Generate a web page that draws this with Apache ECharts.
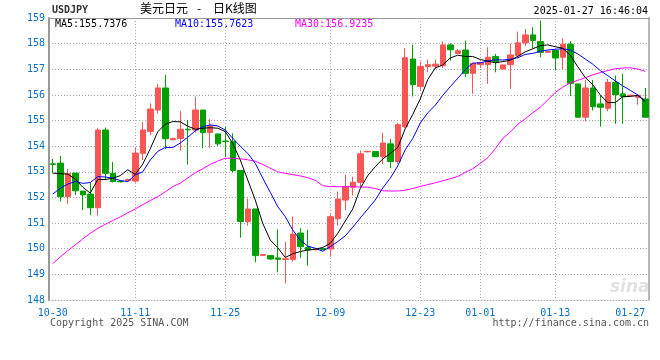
<!DOCTYPE html>
<html><head><meta charset="utf-8">
<script src="https://cdn.jsdelivr.net/npm/echarts@6/dist/echarts.min.js"></script>
<style>html,body{margin:0;padding:0;background:#fff}#c{width:660px;height:360px}</style>
</head><body><div id="c"></div>
<script>
// ---- data ----
const dates = ['10-30','10-31','11-01','11-02','11-03','11-04','11-05','11-06','11-07','11-08',
 '11-09','11-11','11-12','11-13','11-14','11-15','11-16','11-18','11-19','11-20',
 '11-21','11-22','11-23','11-25','11-26','11-27','11-28','11-29','11-30','12-01',
 '12-02','12-03','12-04','12-05','12-06','12-07','12-08','12-09','12-10','12-11',
 '12-12','12-13','12-14','12-16','12-17','12-18','12-19','12-20','12-21','12-23',
 '12-24','12-25','12-26','12-27','12-28','12-30','12-31','01-01','01-02','01-03',
 '01-04','01-06','01-07','01-08','01-09','01-10','01-11','01-13','01-14','01-15',
 '01-16','01-17','01-18','01-20','01-21','01-22','01-23','01-24','01-25','01-27'];
const shownLabels = ['10-30','11-11','11-25','12-09','12-23','01-01','01-13','01-27'];
const openP = [153.31,153.34,152.03,152.95,152.25,152.13,151.60,154.63,152.94,152.63,
 152.65,152.64,153.72,154.57,155.41,156.27,154.25,154.30,154.66,154.63,
 155.41,154.53,154.48,154.20,154.19,153.05,151.06,151.55,149.74,149.74,
 149.64,149.58,149.58,150.61,150.05,149.96,150.01,149.99,151.17,151.90,
 152.40,152.59,153.78,153.79,153.59,154.09,153.40,154.76,157.40,156.33,
 157.10,157.12,157.14,157.95,157.62,157.75,156.84,157.18,157.18,157.50,
 157.01,157.18,157.53,158.03,158.34,158.08,157.66,157.73,157.47,157.98,
 156.43,155.13,156.27,155.65,155.48,156.49,156.04,155.97,155.91,155.84];
const closeP = [153.29,152.03,152.94,152.26,152.10,151.60,154.63,152.94,152.62,152.61,
 152.70,153.73,154.63,155.45,156.27,154.29,154.30,154.66,154.64,155.41,
 154.53,154.80,154.09,154.18,153.05,151.06,151.55,149.73,149.77,149.60,
 149.59,149.61,150.57,150.08,149.95,149.99,149.97,151.25,151.94,152.42,
 152.59,153.70,153.80,153.59,154.12,153.40,154.84,157.45,156.40,157.11,
 157.18,157.20,157.95,157.76,157.72,156.84,157.23,157.27,157.47,157.30,
 157.17,157.56,158.03,158.34,158.12,157.66,157.70,157.44,157.98,156.45,
 155.13,156.27,155.54,155.52,156.49,156.01,155.93,155.99,155.99,155.13];
const lowP = [152.94,151.84,151.74,152.10,151.51,151.31,151.29,152.68,152.58,152.58,
 152.62,152.58,153.46,154.43,155.28,153.88,154.22,153.83,153.28,154.53,
 153.92,153.94,154.01,153.59,152.97,150.43,150.90,149.47,149.72,149.56,
 149.08,148.65,149.50,149.65,149.34,149.93,149.94,149.69,150.90,151.50,
 152.07,152.40,153.76,153.58,153.31,153.15,153.31,154.70,155.94,156.17,
 156.88,157.00,157.05,157.34,157.60,156.69,156.04,157.05,156.43,156.88,
 157.00,156.23,157.43,157.90,157.82,157.47,157.64,156.95,157.01,155.95,
 155.10,154.97,155.39,154.76,155.36,154.87,154.87,155.96,155.62,155.13];
const highP = [153.50,153.62,153.12,152.95,152.25,152.58,154.70,154.73,153.38,152.66,
 152.74,153.95,154.94,155.67,156.43,156.78,154.33,155.37,155.02,155.93,
 155.41,155.06,154.48,154.76,154.50,153.05,151.96,151.55,149.79,149.74,
 150.76,150.26,151.25,150.80,150.73,150.02,150.03,151.35,152.23,152.88,
 152.81,153.83,153.82,153.80,154.52,154.28,154.91,157.83,157.95,157.30,
 157.38,157.38,158.09,158.01,157.79,158.12,157.25,157.28,157.86,157.60,
 157.18,157.99,158.47,158.57,158.64,158.90,157.72,157.73,158.21,158.09,
 156.43,156.58,156.58,155.97,156.62,156.75,156.82,156.00,155.99,156.27];
const ma5 = [152.95,152.93,152.91,152.72,152.40,152.17,152.70,152.70,152.75,152.85,
 153.08,152.90,153.30,153.90,154.56,154.86,154.96,154.95,154.78,154.66,
 154.70,154.72,154.70,154.57,154.11,153.46,152.68,151.90,150.99,150.34,
 150.04,149.66,149.80,149.89,149.95,149.98,150.05,150.21,150.60,151.08,
 151.55,152.35,152.85,153.20,153.50,153.72,153.95,154.68,155.24,155.84,
 156.60,157.05,157.17,157.44,157.55,157.50,157.50,157.38,157.32,157.25,
 157.30,157.35,157.50,157.68,157.80,157.92,157.95,157.88,157.82,157.55,
 157.10,156.68,156.40,156.00,155.70,155.70,155.93,155.94,155.98,155.74];
const ma10 = [152.13,152.36,152.52,152.62,152.55,152.58,152.81,152.80,152.75,152.66,
 152.62,152.88,153.00,153.46,153.80,153.95,153.95,154.12,154.35,154.60,
 154.76,154.83,154.79,154.63,154.31,154.00,153.72,153.33,152.75,152.20,
 151.64,151.25,150.73,150.34,150.10,150.02,149.90,150.08,150.28,150.50,
 150.84,151.20,151.55,151.90,152.37,152.75,153.23,153.86,154.30,154.90,
 155.30,155.60,155.98,156.32,156.65,156.98,157.24,157.25,157.32,157.37,
 157.36,157.39,157.45,157.58,157.62,157.70,157.75,157.78,157.80,157.75,
 157.60,157.40,157.20,156.95,156.75,156.55,156.35,156.18,156.00,155.76];
const ma30 = [149.42,149.68,149.92,150.15,150.38,150.60,150.79,150.95,151.10,151.24,
 151.40,151.55,151.72,151.88,152.03,152.22,152.42,152.56,152.76,152.96,
 153.12,153.29,153.42,153.53,153.53,153.51,153.47,153.41,153.29,153.14,
 153.00,152.94,152.89,152.84,152.77,152.67,152.46,152.42,152.42,152.42,
 152.42,152.41,152.40,152.35,152.26,152.25,152.25,152.28,152.35,152.43,
 152.50,152.57,152.65,152.73,152.82,152.98,153.12,153.33,153.55,153.90,
 154.30,154.55,154.85,155.07,155.30,155.52,155.80,156.10,156.30,156.47,
 156.57,156.67,156.78,156.87,156.95,157.02,157.05,157.06,157.01,156.92];
const yMin = 148, yMax = 159, yStep = 1;
const legendTexts = ['MA5:155.7376','MA10:155.7623','MA30:156.9235'];
const titleParts = ['美元日元', '-', '日K线图'];

// ---- chart ----
const candleData = dates.map((d, i) => [openP[i], closeP[i], lowP[i], highP[i]]);
const isShown = (i) => shownLabels.indexOf(dates[i]) >= 0;
const isInnerGrid = (i) => isShown(i) && i !== 0 && i !== dates.length - 1;
const mono = 'DejaVu Sans Mono';
const cjk = '"Noto Sans CJK SC"';
const blue = '#0a70c4';
const dotted = {type: [1, 2], color: '#a8a8a8', width: 1};

const chart = echarts.init(document.getElementById('c'), null, {renderer: 'canvas'});
chart.setOption({
  animation: false,
  backgroundColor: '#fff',
  grid: {left: 49, right: 11, top: 18, bottom: 60, containLabel: false},
  xAxis: [{
    type: 'category', data: dates, boundaryGap: true, position: 'bottom',
    axisLine: {show: true, lineStyle: dotted},
    axisTick: {show: false},
    axisLabel: {interval: (i) => isShown(i), color: blue, fontFamily: mono, fontSize: 10, margin: 8,
      alignMaxLabel: 'right'},
    splitLine: {show: true, interval: (i) => isInnerGrid(i), alignWithLabel: true, lineStyle: dotted}
  }, {
    type: 'category', data: dates, boundaryGap: true, position: 'top',
    axisLine: {show: true, lineStyle: {color: '#999', width: 1}},
    axisTick: {show: false}, axisLabel: {show: false}, splitLine: {show: false}
  }],
  yAxis: [{
    type: 'value', min: yMin, max: yMax, interval: yStep, position: 'left',
    axisLine: {show: true, lineStyle: {color: '#999', width: 2}},
    axisTick: {show: false},
    axisLabel: {color: blue, fontFamily: mono, fontSize: 10, margin: 4},
    splitLine: {show: true, lineStyle: dotted}
  }, {
    type: 'value', min: yMin, max: yMax, interval: yStep, position: 'right',
    axisLine: {show: true, lineStyle: {color: '#b8b8b8', width: 2}},
    axisTick: {show: false}, axisLabel: {show: false}, splitLine: {show: false}
  }],
  series: [{
    type: 'candlestick', data: candleData, barWidth: 6,
    itemStyle: {color: '#f85555', color0: '#00a000', borderColor: '#f85555', borderColor0: '#00a000', borderWidth: 1}
  }, {
    type: 'line', data: ma30, symbol: 'none', lineStyle: {color: '#ff00ff', width: 1}, z: 3
  }, {
    type: 'line', data: ma10, symbol: 'none', lineStyle: {color: '#0000ff', width: 1}, z: 4
  }, {
    type: 'line', data: ma5, symbol: 'none', lineStyle: {color: '#000000', width: 1}, z: 5
  }],
  graphic: [
    {type: 'text', left: 52, top: 5, style: {text: 'USDJPY', font: 'bold 10px ' + mono, fill: '#333'}},
    {type: 'text', left: 140, top: 2, style: {text: titleParts[0], font: '12px ' + cjk, fill: '#000'}},
    {type: 'text', left: 197, top: 2, style: {text: titleParts[1], font: '12px ' + cjk, fill: '#000'}},
    {type: 'text', left: 213, top: 2, style: {text: titleParts[2], font: '12px ' + cjk, fill: '#000'}},
    {type: 'text', right: 12, top: 6, style: {text: '2025-01-27 16:46:04', font: '10px ' + mono, fill: '#000'}},
    {type: 'text', left: 55, top: 19, style: {text: legendTexts[0], font: '10px ' + mono, fill: '#000'}},
    {type: 'text', left: 175, top: 19, style: {text: legendTexts[1], font: '10px ' + mono, fill: '#0000ff'}},
    {type: 'text', left: 295, top: 19, style: {text: legendTexts[2], font: '10px ' + mono, fill: '#ff00ff'}},
    {type: 'text', left: 50, top: 318, style: {text: 'Copyright 2025 SINA.COM', font: '10px ' + mono, fill: '#555'}},
    {type: 'text', right: 11, top: 318, style: {text: 'http://finance.sina.com.cn', font: '10px ' + mono, fill: '#555'}},
    {type: 'text', left: 610, top: 279, style: {text: 'sina', font: 'italic bold 17px "DejaVu Sans"', fill: '#e2e2e2'}}
  ]
});
</script></body></html>
